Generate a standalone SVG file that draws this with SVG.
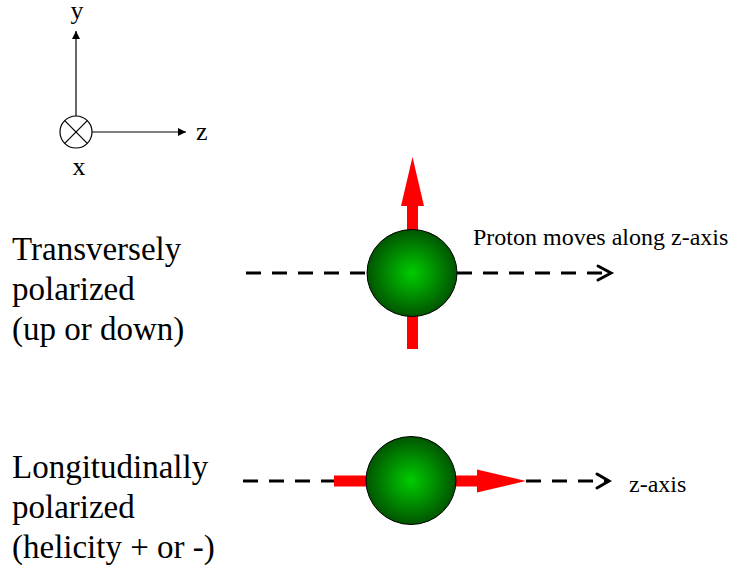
<svg xmlns="http://www.w3.org/2000/svg" width="738" height="575" viewBox="0 0 738 575">
<style>
text{font-family:'Liberation Serif',Tinos,'DejaVu Serif',serif;fill:#000}
.big{font-size:33px}
.mid{font-size:24px}
.ax{stroke:#000;stroke-width:1.2;fill:none}
.dash{stroke:#000;stroke-width:3;stroke-dasharray:15 11;fill:none}
.chev{stroke:#000;stroke-width:3;fill:none;stroke-linecap:round;stroke-linejoin:miter}
.red{fill:#ff0000}
.ball{fill:url(#g);stroke:#000;stroke-width:1}
</style>
<defs>
<radialGradient id="g" cx="0.5" cy="0.5" r="0.5">
<stop offset="0" stop-color="#00cc00"/>
<stop offset="1" stop-color="#005500"/>
</radialGradient>
<marker id="ah" viewBox="0 0 10 10" refX="10" refY="5" markerWidth="8" markerHeight="8" markerUnits="userSpaceOnUse" orient="auto">
<path d="M0,0 L10,5 L0,10 z" fill="#000"/>
</marker>
</defs>
<rect width="738" height="575" fill="#fff"/>
<g id="axes">
<line class="ax" x1="76" y1="116" x2="76" y2="31" marker-end="url(#ah)"/>
<line class="ax" x1="92" y1="132" x2="186" y2="132" marker-end="url(#ah)"/>
<circle class="ax" cx="76" cy="132" r="16"/>
<line class="ax" x1="64.7" y1="120.7" x2="87.3" y2="143.3"/>
<line class="ax" x1="87.3" y1="120.7" x2="64.7" y2="143.3"/>
<text x="77" y="19" font-size="26" text-anchor="middle" font-family="'Liberation Serif', serif">y</text>
<text x="196" y="140" font-size="26" font-family="'Liberation Serif', serif">z</text>
<text x="79" y="175" font-size="26" text-anchor="middle" font-family="'Liberation Serif', serif">x</text>
</g>
<g id="connectors">
<line class="dash" x1="246" y1="273" x2="368" y2="273"/>
<line class="dash" x1="457" y1="273" x2="611" y2="273"/>
<polyline class="chev" points="598,266 611,273 598,280"/>
<line class="dash" x1="243" y1="481" x2="334" y2="481"/>
<line class="dash" x1="526" y1="481" x2="609" y2="481"/>
<polyline class="chev" points="597,474 609,481 597,488"/>
</g>
<g id="transverse">
<rect class="red" x="407" y="205" width="11" height="144"/>
<polygon class="red" points="412.5,157 401,206 424,206"/>
<ellipse class="ball" cx="412" cy="273" rx="45" ry="43.5"/>
<text class="mid" x="473" y="245" font-family="'Liberation Serif', serif">Proton moves along z-axis</text>
<text class="big" x="12" y="260" font-family="'Liberation Serif', serif">Transversely</text>
<text class="big" x="12" y="300" font-family="'Liberation Serif', serif">polarized</text>
<text class="big" x="12" y="340" font-family="'Liberation Serif', serif">(up or down)</text>
</g>
<g id="longitudinal">
<rect class="red" x="334" y="475.5" width="145" height="11"/>
<polygon class="red" points="526,481 477,469.5 477,492.5"/>
<ellipse class="ball" cx="411" cy="480.5" rx="45" ry="44"/>
<text class="mid" x="629" y="492" font-family="'Liberation Serif', serif">z-axis</text>
<text class="big" x="12" y="478" font-family="'Liberation Serif', serif">Longitudinally</text>
<text class="big" x="12" y="518" font-family="'Liberation Serif', serif">polarized</text>
<text class="big" x="12" y="558" font-family="'Liberation Serif', serif">(helicity + or -)</text>
</g>
</svg>
